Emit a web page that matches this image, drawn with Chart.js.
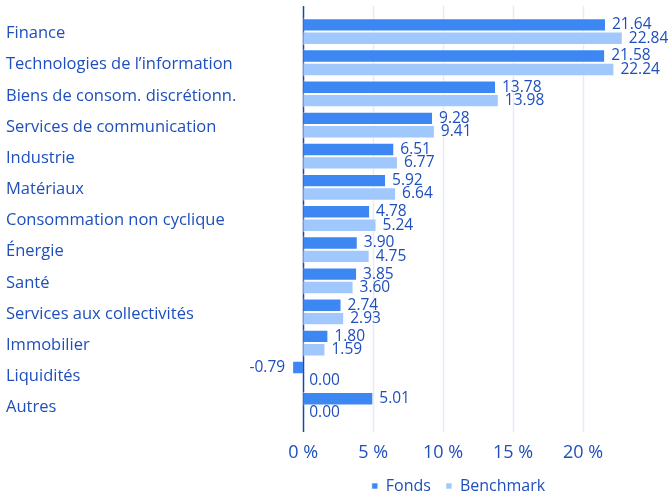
<!DOCTYPE html>
<html>
<head>
<meta charset="utf-8">
<script src="https://cdn.jsdelivr.net/npm/chart.js@4"></script>
<style>
  html, body { margin: 0; padding: 0; background: #fff; }
  #wrap { width: 668px; height: 496px; }
</style>
</head>
<body>
<div id="wrap"><canvas id="chart"></canvas></div>
<script>
// Sector weights, fund vs benchmark (%)
const categories = [
    'Finance',
    'Technologies de l’information',
    'Biens de consom. discrétionn.',
    'Services de communication',
    'Industrie',
    'Matériaux',
    'Consommation non cyclique',
    'Énergie',
    'Santé',
    'Services aux collectivités',
    'Immobilier',
    'Liquidités',
    'Autres'
];
const fondsValues = [21.64, 21.58, 13.78, 9.28, 6.51, 5.92, 4.78, 3.90, 3.85, 2.74, 1.80, -0.79, 5.01];
const benchmarkValues = [22.84, 22.24, 13.98, 9.41, 6.77, 6.64, 5.24, 4.75, 3.60, 2.93, 1.59, 0.00, 0.00];
const tickValues = [0, 5, 10, 15, 20];

const textColor = '#1f4fbd';
const fontFamily = "'Open Sans', sans-serif";

// grid lines stick out a bit above and below the bars
const gridPlugin = {
    id: 'gridLines',
    beforeDatasetsDraw(chart) {
        const { ctx, chartArea, scales: { x } } = chart;
        ctx.save();
        x.ticks.forEach(t => {
            const px = Math.round(x.getPixelForValue(t.value)) + 0.5;
            ctx.beginPath();
            ctx.strokeStyle = t.value === 0 ? '#1748b0' : '#e2ecfa';
            ctx.lineWidth = 1.5;
            ctx.moveTo(px, chartArea.top - 10);
            ctx.lineTo(px, chartArea.bottom + 11);
            ctx.stroke();
        });
        ctx.restore();
    }
};

const valueLabels = {
    id: 'valueLabels',
    afterDatasetsDraw(chart) {
        const { ctx } = chart;
        ctx.save();
        ctx.font = '15.5px ' + fontFamily;
        ctx.fillStyle = textColor;
        ctx.textBaseline = 'middle';
        chart.data.datasets.forEach((ds, i) => {
            chart.getDatasetMeta(i).data.forEach((bar, j) => {
                const v = ds.data[j];
                if (v < 0) {
                    ctx.textAlign = 'right';
                    ctx.fillText(v.toFixed(2), bar.x - 7, bar.y);
                } else {
                    ctx.textAlign = 'left';
                    ctx.fillText(v.toFixed(2), bar.x + 6, bar.y);
                }
            });
        });
        ctx.restore();
    }
};

// nudge the legend a little to the left
const legendShift = {
    id: 'legendShift',
    afterLayout(chart) {
        chart.legend.left -= 14;
        chart.legend.right -= 14;
    }
};

new Chart(document.getElementById('chart'), {
    type: 'bar',
    data: {
        labels: categories,
        datasets: [
            { label: 'Fonds', data: fondsValues, backgroundColor: '#3d87f2', borderColor: 'rgba(255,255,255,0.6)', borderWidth: 1 },
            { label: 'Benchmark', data: benchmarkValues, backgroundColor: '#a0c8fc', borderColor: 'rgba(255,255,255,0.6)', borderWidth: 1 }
        ]
    },
    options: {
        indexAxis: 'y',
        responsive: true,
        maintainAspectRatio: false,
        animation: false,
        categoryPercentage: 0.86,
        barPercentage: 1.0,
        layout: { padding: { top: 16, left: 6, right: 15, bottom: -8 } },
        plugins: {
            legend: {
                position: 'bottom',
                fullSize: false,
                labels: { boxWidth: 6, boxHeight: 6, padding: 15, color: textColor, font: { family: fontFamily, size: 16 } }
            },
            tooltip: { enabled: false }
        },
        scales: {
            x: {
                min: -0.8,
                max: 25,
                afterBuildTicks: s => { s.ticks = tickValues.map(v => ({ value: v })); },
                afterFit: s => { s.height = 42; },
                grid: { display: false, drawTicks: false },
                border: { display: false },
                ticks: { padding: 21, color: textColor, font: { family: fontFamily, size: 18 }, callback: v => v + ' %' }
            },
            y: {
                afterFit: s => { s.width = 286; },
                grid: { display: false },
                border: { display: false },
                ticks: { crossAlign: 'far', labelOffset: 2, color: textColor, font: { family: fontFamily, size: 16.5 } }
            }
        }
    },
    plugins: [gridPlugin, valueLabels, legendShift]
});
</script>
</body>
</html>
